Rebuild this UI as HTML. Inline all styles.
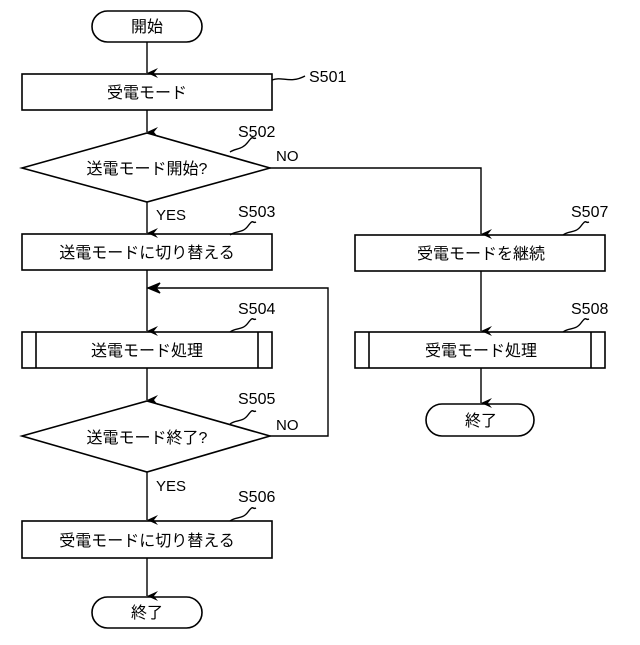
<!DOCTYPE html>
<html><head><meta charset="utf-8"><style>
html,body{margin:0;padding:0;background:#fff;}
svg text{font-family:"Liberation Sans","Noto Sans CJK JP",sans-serif;fill:#000;}
</style></head><body>
<svg width="640" height="640" viewBox="0 0 640 640" xmlns="http://www.w3.org/2000/svg">
<defs><marker id="a" markerWidth="10" markerHeight="12" refX="5" refY="11" orient="auto-start-reverse" markerUnits="userSpaceOnUse">
<path d="M0,0 L5,11 L10,0 L5,4 Z" fill="#000"/></marker>
<marker id="h" markerWidth="12" markerHeight="10" refX="11" refY="5" orient="0" markerUnits="userSpaceOnUse">
<path d="M12,5 L0,0 L4,5 L0,10 Z" fill="#000" transform="scale(-1,1) translate(-12,0)"/></marker></defs>
<g fill="none" stroke="#000" stroke-width="1.6">
<rect x="92" y="11" width="110" height="31" rx="15.5"/>
<rect x="22" y="74" width="250" height="36"/>
<polygon points="22,168 147,133 270,168 147,202"/>
<rect x="22" y="234" width="250" height="36"/>
<rect x="22" y="332" width="250" height="36"/>
<line x1="36" y1="332" x2="36" y2="368"/><line x1="258" y1="332" x2="258" y2="368"/>
<polygon points="22,436 147,401 270,436 147,472"/>
<rect x="22" y="521" width="250" height="37"/>
<rect x="92" y="597" width="110" height="31" rx="15.5"/>
<rect x="355" y="235" width="250" height="36"/>
<rect x="355" y="332" width="250" height="36"/>
<line x1="369" y1="332" x2="369" y2="368"/><line x1="591" y1="332" x2="591" y2="368"/>
<rect x="426" y="404" width="108" height="32" rx="16"/>
<g stroke-width="1.4">
<line x1="147" y1="42" x2="147" y2="73" marker-end="url(#a)"/>
<line x1="147" y1="110" x2="147" y2="132" marker-end="url(#a)"/>
<line x1="147" y1="202" x2="147" y2="233" marker-end="url(#a)"/>
<line x1="147" y1="270" x2="147" y2="331" marker-end="url(#a)"/>
<line x1="147" y1="368" x2="147" y2="400" marker-end="url(#a)"/>
<line x1="147" y1="472" x2="147" y2="520" marker-end="url(#a)"/>
<line x1="147" y1="558" x2="147" y2="596" marker-end="url(#a)"/>
<polyline points="270,436 328,436 328,288 148,288"/>
<path d="M148,288 L160,283 L156,288 L160,293 Z" fill="#000"/>
<polyline points="270,168 481,168 481,234" marker-end="url(#a)"/>
<line x1="481" y1="271" x2="481" y2="331" marker-end="url(#a)"/>
<line x1="481" y1="368" x2="481" y2="403" marker-end="url(#a)"/>
<path d="M272,80 C282,76 290,84 305,76"/>
<path d="M230,152 C236,148 242,150 248,142 S252,140 256,138"/>
<path d="M230,235 C236,230 242,234 248,226 S252,224 256,222"/>
<path d="M230,332 C236,327 242,331 248,323 S252,321 256,319"/>
<path d="M230,424 C236,419 242,423 248,415 S252,413 256,411"/>
<path d="M230,521 C236,516 242,520 248,512 S252,510 256,508"/>
<path d="M563,235 C569,230 575,234 581,226 S585,224 589,222"/>
<path d="M563,332 C569,327 575,331 581,323 S585,321 589,319"/>
</g></g>
<g font-size="16" text-anchor="middle">
<text x="147" y="32">開始</text>
<text x="147" y="98">受電モード</text>
<text x="147" y="174">送電モード開始?</text>
<text x="147" y="258">送電モードに切り替える</text>
<text x="147" y="356">送電モード処理</text>
<text x="147" y="443">送電モード終了?</text>
<text x="147" y="546">受電モードに切り替える</text>
<text x="147" y="618">終了</text>
<text x="481" y="259">受電モードを継続</text>
<text x="481" y="356">受電モード処理</text>
<text x="481" y="426">終了</text>
</g>
<g font-size="16">
<text x="309" y="82">S501</text>
<text x="238" y="137">S502</text>
<text x="238" y="217">S503</text>
<text x="238" y="314">S504</text>
<text x="238" y="404">S505</text>
<text x="238" y="502">S506</text>
<text x="571" y="217">S507</text>
<text x="571" y="314">S508</text>
<text x="276" y="161" font-size="15">NO</text>
<text x="276" y="430" font-size="15">NO</text>
<text x="156" y="220" font-size="15">YES</text>
<text x="156" y="491" font-size="15">YES</text>
</g>
</svg>
</body></html>
